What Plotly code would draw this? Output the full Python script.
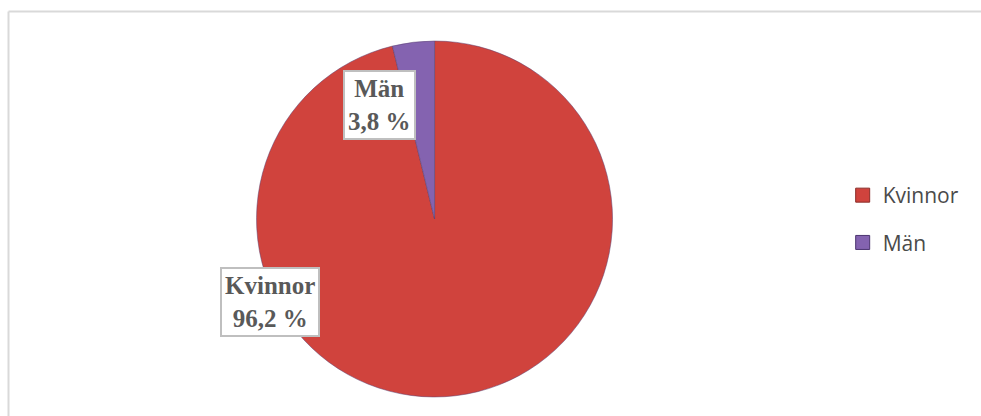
import plotly.graph_objects as go

# Gender split (percent)
categories = ["Kvinnor", "Män"]
shares = [96.2, 3.8]
slice_colors = ["#D0433D", "#8463B0"]

W, H = 981, 416
M_T, M_B = 41, 19
plot_h = H - M_T - M_B

fig = go.Figure()

fig.add_trace(go.Pie(
    labels=categories,
    values=shares,
    sort=False,
    direction="clockwise",
    rotation=0,
    textinfo="none",
    hoverinfo="label+percent",
    marker=dict(colors=slice_colors, line=dict(color="#5a4070", width=0.5)),
    domain=dict(x=[0.2615, 0.6244], y=[0, 1]),
    showlegend=False,
))

# Legend entries (square swatches) via invisible scatter traces
edge_colors = ["#8a2d29", "#4b3470"]
for name, col, edge in zip(categories, slice_colors, edge_colors):
    fig.add_trace(go.Scatter(
        x=[None], y=[None], mode="markers", name=name,
        marker=dict(symbol="square", size=14, color=col, line=dict(color=edge, width=1)),
        legendgroup=name,
    ))

# Boxed data labels
label_pos = {"Kvinnor": (270, 302), "Män": (379, 105)}
for name, val in zip(categories, shares):
    px, py = label_pos[name]
    txt = f"<b>{name}<br>{val:.1f} %</b>".replace(".", ",")
    fig.add_annotation(
        x=px / W, y=(H - M_B - py) / plot_h, xref="paper", yref="paper",
        xanchor="center", yanchor="middle",
        text=txt, showarrow=False, align="center",
        font=dict(family="Liberation Serif", size=25, color="#595959"),
        bgcolor="white", bordercolor="#BFBFBF", borderwidth=2, borderpad=3,
    )

# Chart-area frame (top and left edges)
frame_y = (H - M_B - 11.5) / plot_h
frame_x = 8.5 / W
fig.add_shape(type="line", xref="paper", yref="paper",
              x0=frame_x, x1=1.02, y0=frame_y, y1=frame_y,
              line=dict(color="#D9D9D9", width=2))
fig.add_shape(type="line", xref="paper", yref="paper",
              x0=frame_x, x1=frame_x, y0=-0.1, y1=frame_y,
              line=dict(color="#D9D9D9", width=2))

fig.update_layout(
    width=W, height=H,
    margin=dict(l=0, r=0, t=M_T, b=M_B),
    paper_bgcolor="white", plot_bgcolor="white",
    xaxis=dict(visible=False), yaxis=dict(visible=False),
    legend=dict(
        x=0.859, xanchor="left", y=0.5, yanchor="middle",
        font=dict(family="Open Sans", size=21, color="#4a4a4a"),
        tracegroupgap=17, itemwidth=30, bgcolor="rgba(0,0,0,0)",
    ),
)

fig.write_html("out.html")
